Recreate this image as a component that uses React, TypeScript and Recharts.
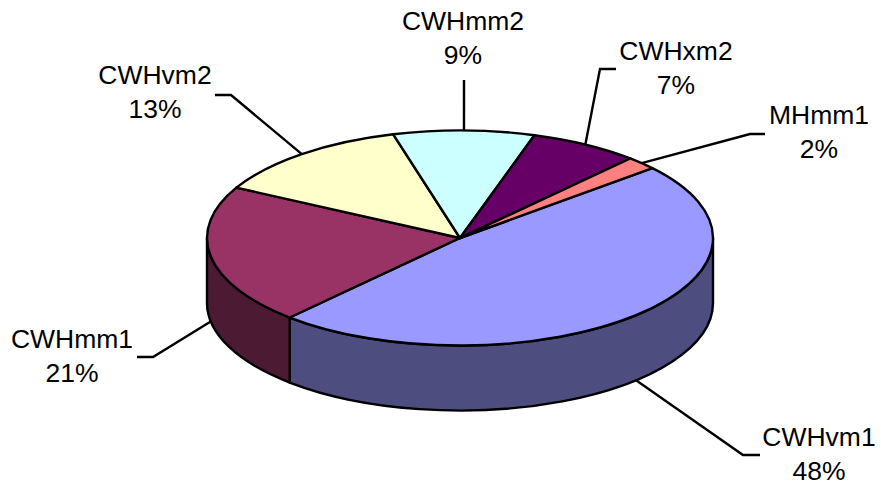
import React from "react";
import { PieChart, Pie } from "recharts";

// Shares of each climate class, in percent
const categories = ["CWHvm1", "CWHmm1", "CWHvm2", "CWHmm2", "CWHxm2", "MHmm1"];
const shares = [48, 21, 13, 9, 7, 2];
const topColors = ["#9999FF", "#993366", "#FFFFCC", "#CCFFFF", "#660066", "#FF8080"];
const wallColors = ["#4D4D80", "#4D1A33", "#808066", "#668080", "#330033", "#804040"];

const rows = categories.map((name, i) => ({
  name,
  value: shares[i],
  fill: topColors[i],
  wall: wallColors[i],
}));

const WIDTH = 881;
const HEIGHT = 485;
const CX = 460;
const CY = 238;
const RADIUS_X = 253;
const SQUASH = 0.425; // vertical flattening of the disc
const DEPTH = 65;
const LINE = 2.4;
const FONT = "'Liberation Sans', Arial, sans-serif";
const FONT_SIZE = 26.5;

// Text centre, first baseline and leader elbow/end for each label
const labelPlacement: Record<string, { x: number; y: number; elbow: [number, number]; end: [number, number] }> = {
  CWHvm1: { x: 819, y: 446, elbow: [743, 455], end: [760, 455] },
  CWHmm1: { x: 72, y: 348, elbow: [153, 357], end: [137, 357] },
  CWHvm2: { x: 155, y: 84, elbow: [231, 95], end: [215, 95] },
  CWHmm2: { x: 463, y: 30, elbow: [464, 97], end: [464, 80] },
  CWHxm2: { x: 676, y: 60, elbow: [600, 69], end: [616, 69] },
  MHmm1: { x: 819, y: 124, elbow: [750, 134], end: [765, 134] },
};

const RAD = Math.PI / 180;
const rimPoint = (cx: number, cy: number, r: number, deg: number): [number, number] => [
  cx + r * Math.cos(deg * RAD),
  cy - r * SQUASH * Math.sin(deg * RAD),
];

// Parts of a clockwise angle span that face the viewer (lower half of the disc)
const frontSpans = (start: number, end: number): [number, number][] => {
  const spans: [number, number][] = [];
  for (const [hi, lo] of [[0, -180], [-360, -540], [360, 180]]) {
    const a = Math.min(start, hi);
    const b = Math.max(end, lo);
    if (a > b) spans.push([a, b]);
  }
  return spans;
};

// Flattened wedge with its extruded outer wall
const DiscSlice = (props: any) => {
  const { cx, cy, outerRadius: r, startAngle, endAngle, fill, wall } = props;
  const ry = r * SQUASH;
  const [x1, y1] = rimPoint(cx, cy, r, startAngle);
  const [x2, y2] = rimPoint(cx, cy, r, endAngle);
  const large = Math.abs(startAngle - endAngle) > 180 ? 1 : 0;
  const top = `M${cx},${cy} L${x1},${y1} A${r},${ry} 0 ${large} 1 ${x2},${y2} Z`;
  return (
    <g>
      {frontSpans(startAngle, endAngle).map(([a, b], i) => {
        const [ax, ay] = rimPoint(cx, cy, r, a);
        const [bx, by] = rimPoint(cx, cy, r, b);
        const d = `M${ax},${ay} A${r},${ry} 0 0 1 ${bx},${by} L${bx},${by + DEPTH} A${r},${ry} 0 0 0 ${ax},${ay + DEPTH} Z`;
        return <path key={i} d={d} fill={wall} stroke="#000" strokeWidth={LINE} strokeLinejoin="round" />;
      })}
      <path d={top} fill={fill} stroke="#000" strokeWidth={LINE} strokeLinejoin="round" />
    </g>
  );
};

// Two-line label with a leader running from the rim of the slice
const SliceLabel = (props: any) => {
  const { cx, cy, outerRadius: r, midAngle, name, percent } = props;
  const place = labelPlacement[name];
  if (!place) return null;
  const [rx, ry] = rimPoint(cx, cy, r, midAngle);
  const onFront = Math.sin(midAngle * RAD) < 0;
  const startY = onFront ? ry + DEPTH : ry;
  const points = `${rx},${startY} ${place.elbow.join(",")} ${place.end.join(",")}`;
  return (
    <g>
      <polyline points={points} fill="none" stroke="#000" strokeWidth={LINE} />
      <text x={place.x} y={place.y} textAnchor="middle" fontFamily={FONT} fontSize={FONT_SIZE} fill="#000">
        {name}
      </text>
      <text x={place.x} y={place.y + 34} textAnchor="middle" fontFamily={FONT} fontSize={FONT_SIZE} fill="#000">
        {`${Math.round(percent * 100)}%`}
      </text>
    </g>
  );
};

export default function App() {
  return (
    <div style={{ position: "absolute", left: 0, top: 0, width: WIDTH, height: HEIGHT, background: "#fff" }}>
      <PieChart width={WIDTH} height={HEIGHT} margin={{ top: 0, right: 0, bottom: 0, left: 0 }}>
        <Pie
          data={rows}
          dataKey="value"
          nameKey="name"
          cx={CX}
          cy={CY}
          innerRadius={0}
          outerRadius={RADIUS_X}
          startAngle={40.5}
          endAngle={-319.5}
          isAnimationActive={false}
          shape={DiscSlice}
          inactiveShape={DiscSlice}
          label={SliceLabel}
          labelLine={false}
        />
      </PieChart>
    </div>
  );
}
